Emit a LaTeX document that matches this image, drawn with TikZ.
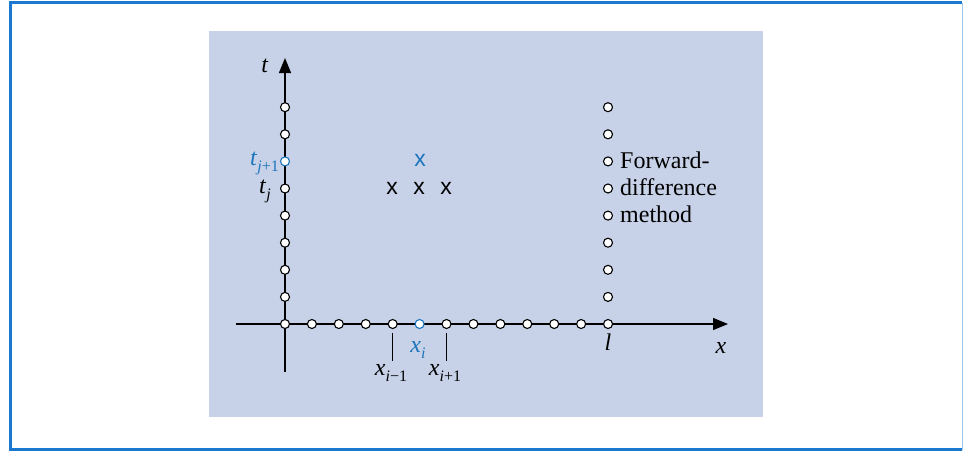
\documentclass[tikz,border=0pt]{standalone}
\usepackage{fontspec}
\setmainfont{Liberation Serif}
\newfontfamily\sansx{Liberation Sans}
\usetikzlibrary{arrows.meta}
\definecolor{panel}{HTML}{C7D2E8}
\definecolor{accent}{HTML}{1B75BC}
\definecolor{framec}{HTML}{1A78CF}
\newcommand\sbx[1]{\raisebox{-0.26em}{\fontsize{16}{19}\selectfont #1}}
\begin{document}
\begin{tikzpicture}[x=1pt,y=-1pt,
  gridpt/.style={circle,draw=black,fill=white,line width=1.1pt,inner sep=0pt,minimum size=9pt},
  bluept/.style={gridpt,draw=accent},
  lbl/.style={inner sep=0pt,font=\fontsize{24}{28}\selectfont},
  mk/.style={inner sep=0pt,font=\sansx\fontsize{23}{26}\selectfont},
  axis/.style={line width=1.3pt,-{Triangle[length=15pt,width=12pt]}},
  tick/.style={line width=1pt}]
\useasboundingbox (0,0) rectangle (963,451);
\fill[white] (0,0) rectangle (963,451);
\draw[framec,line width=3pt] (962,2.5) -- (10.5,2.5) -- (10.5,449.5) -- (962,449.5);
\draw[framec!40,line width=1pt] (962,2.5) -- (962,449.5);
\fill[panel] (209,31) rectangle (763,417);
% axes
\coordinate (xs) at (236,324);
\coordinate (xe) at (728,324);
\coordinate (ts) at (285,372);
\coordinate (te) at (285,58);
\draw[axis] (xs) -- (xe);
\draw[axis] (ts) -- (te);
% ticks
\coordinate (ta1) at (392,333); \coordinate (ta2) at (392,361);
\coordinate (tb1) at (446,333); \coordinate (tb2) at (446,361);
\draw[tick] (ta1) -- (ta2);
\draw[tick] (tb1) -- (tb2);
% x axis points
\foreach \i in {0,...,12}{
  \pgfmathsetmacro{\xx}{285+\i*26.92}
  \ifnum\i=5
    \node[bluept] (h\i) at (\xx,324) {};
  \else
    \node[gridpt] (h\i) at (\xx,324) {};
  \fi
}
% t axis points
\foreach \j in {1,...,8}{
  \pgfmathsetmacro{\yy}{324-\j*27.1}
  \ifnum\j=6
    \node[bluept] (v\j) at (285,\yy) {};
  \else
    \node[gridpt] (v\j) at (285,\yy) {};
  \fi
  \node[gridpt] (r\j) at (608,\yy) {};
}
% labels
\node[lbl,anchor=base] (tlab) at (265,72) {\textit{t}};
\node[lbl,anchor=base east,text=accent] (tj1) at (279,165) {\textit{t}\sbx{\textit{j}+1}};
\node[lbl,anchor=base east] (tj) at (271,193) {\textit{t}\sbx{\textit{j}}};
\node[lbl,anchor=base,text=accent] (xi) at (418,352) {\textit{x}\sbx{\textit{i}}};
\node[lbl,anchor=base] (xim) at (391,375) {\textit{x}\sbx{\textit{i}−1}};
\node[lbl,anchor=base] (xip) at (445,375) {\textit{x}\sbx{\textit{i}+1}};
\node[lbl,anchor=base] (ll) at (608,350) {\textit{l}};
\node[lbl,anchor=base] (xl) at (721,353) {\textit{x}};
% markers
\node[mk,text=accent] (m0) at (420,160) {x};
\node[mk] (m1) at (392,188) {x};
\node[mk] (m2) at (419,188) {x};
\node[mk] (m3) at (446,188) {x};
% text
\node[lbl,anchor=base west] (f1) at (620,168) {Forward-};
\node[lbl,anchor=base west] (f2) at (620,195) {difference};
\node[lbl,anchor=base west] (f3) at (620,222) {method};
\end{tikzpicture}
\end{document}
